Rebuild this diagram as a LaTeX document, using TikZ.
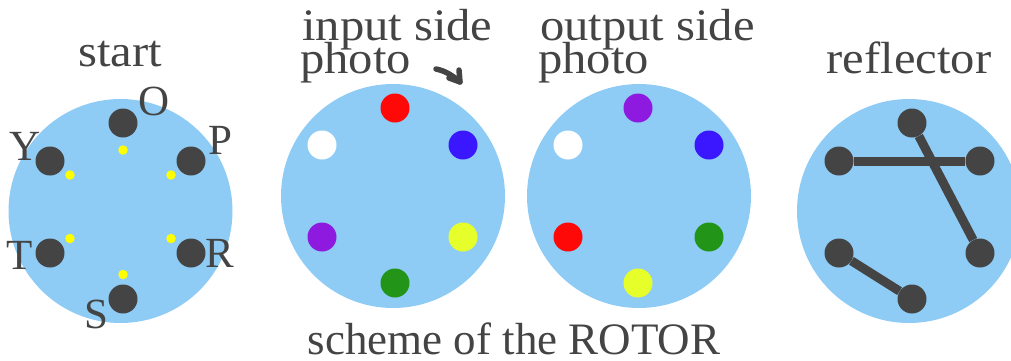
\documentclass[tikz,border=0pt]{standalone}
\usepackage{fontspec}
\setmainfont{Liberation Serif}
\newfontfamily\widefont[FakeStretch=1.08]{Liberation Serif}
\definecolor{disc}{HTML}{8ECCF6}
\definecolor{ink}{HTML}{444444}
\definecolor{yel}{HTML}{FFFF00}
\definecolor{cred}{HTML}{FF0808}
\definecolor{cblue}{HTML}{3A17FF}
\definecolor{cyel}{HTML}{E6FF2A}
\definecolor{cgreen}{HTML}{229418}
\definecolor{cviolet}{HTML}{8E1ADF}
\tikzset{x=1pt,y=-1pt,
 disc/.style={circle,fill=disc,minimum size=224pt,inner sep=0},
 pin/.style={circle,fill=ink,minimum size=29pt,inner sep=0},
 spot/.style={circle,fill=#1,minimum size=29pt,inner sep=0},
 dot/.style={circle,fill=yel,minimum size=9.5pt,inner sep=0},
 lab/.style={text=ink,font=\widefont\fontsize{45pt}{45pt}\selectfont,inner sep=0,anchor=base},
 letter/.style={text=ink,font=\fontsize{43pt}{43pt}\selectfont,inner sep=0,anchor=base},
 plainlab/.style={text=ink,font=\fontsize{45pt}{45pt}\selectfont,inner sep=0,anchor=base},
 wire/.style={draw=ink,line width=9pt},
 hand/.style={draw=ink,line width=5.5pt,line cap=round,line join=round}}
\begin{document}
\begin{tikzpicture}
\useasboundingbox (0,0) rectangle (1011,360);
\node[disc] (d1) at (120.5,211) {};
\node[disc] (d2) at (393,196) {};
\node[disc] (d3) at (639,196) {};
\node[disc] (d4) at (909,211) {};
\node[pin] (o) at (123,123) {}; \node[pin] (p) at (191,161) {};
\node[pin] (r) at (191,253) {}; \node[pin] (s) at (123,299) {};
\node[pin] (t) at (50,253) {}; \node[pin] (y) at (50,161) {};
\node[dot] (d1a) at (123,150) {}; \node[dot] (d1b) at (171,175) {}; \node[dot] (d1c) at (171,238.5) {};
\node[dot] (d1d) at (123,274.5) {}; \node[dot] (d1e) at (70,238.5) {}; \node[dot] (d1f) at (70,175) {};
\node[spot=cred] (i1) at (395,108) {}; \node[spot=cblue] (i2) at (463,145) {};
\node[spot=cyel] (i3) at (463,237) {}; \node[spot=cgreen] (i4) at (395,283) {};
\node[spot=cviolet] (i5) at (322,237) {}; \node[spot=white] (i6) at (322,145) {};
\node[spot=cviolet] (u1) at (638,108) {}; \node[spot=cblue] (u2) at (709,145) {};
\node[spot=cgreen] (u3) at (709,237) {}; \node[spot=cyel] (u4) at (638,283) {};
\node[spot=cred] (u5) at (568,237) {}; \node[spot=white] (u6) at (568,145) {};
\node[pin] (a) at (912,123) {}; \node[pin] (b) at (980,161) {};
\node[pin] (c) at (980,253) {}; \node[pin] (e) at (912,299) {};
\node[pin] (f) at (839,253) {}; \node[pin] (g) at (839,161) {};
\draw[wire] (g)--(b); \draw[wire] (a)--(c); \draw[wire] (f)--(e);
\node[lab] (tstart) at (120,66) {start};
\node[letter] (to) at (154,115) {O}; \node[letter] (tp) at (220,154) {P};
\node[letter] (tr) at (220,267) {R}; \node[letter] (ts) at (96,328) {S};
\node[letter] (tt) at (20,269) {T}; \node[letter] (ty) at (25,160) {Y};
\node[lab,anchor=base west] (t1) at (302,40) {input side};
\node[lab,anchor=base west] (t2) at (300,73) {photo};
\node[lab,anchor=base west] (t3) at (540,40) {output side};
\node[lab,anchor=base west] (t4) at (538,73) {photo};
\node[lab] (t5) at (909,73) {reflector};
\node[plainlab] (t6) at (514,354) {scheme of the ROTOR};
\coordinate (as) at (436,69);
\coordinate (ah) at (460,82);
\coordinate (a1) at (459,70);
\coordinate (a2) at (449,78);
\draw[hand] (as) .. controls (446,71) and (453,76) .. (ah);
\draw[hand] (a1) -- (ah) -- (a2);
\end{tikzpicture}
\end{document}
